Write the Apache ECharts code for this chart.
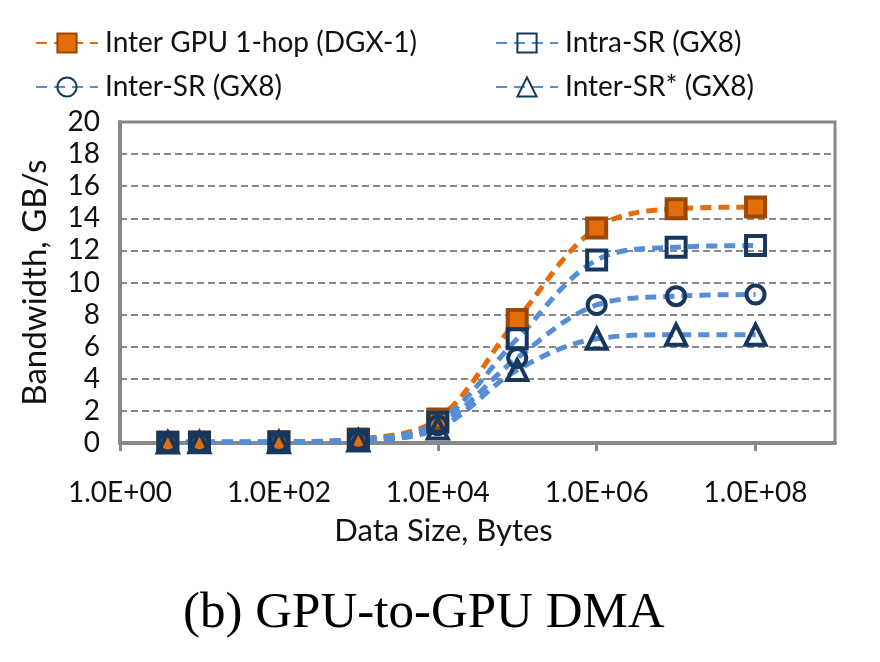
<!DOCTYPE html>
<html>
<head>
<meta charset="utf-8">
<script src="https://cdn.jsdelivr.net/npm/echarts@6/dist/echarts.min.js"></script>
<style>
  html, body { margin: 0; padding: 0; background: #fff; }
  #chart { width: 880px; height: 662px; }
</style>
</head>
<body>
<div id="chart"></div>
<script>
// ---- data ----
var sizes = [4, 10, 100, 1000, 1e4, 1e5, 1e6, 1e7, 1e8];
var interGpu1hop = [0.05, 0.06, 0.08, 0.25, 1.5, 7.7, 13.4, 14.6, 14.7];
var intraSR = [0.04, 0.05, 0.07, 0.2, 1.3, 6.5, 11.4, 12.2, 12.3];
var interSR = [0.03, 0.04, 0.06, 0.18, 1.1, 5.3, 8.6, 9.15, 9.25];
var interSRStar = [0.03, 0.04, 0.05, 0.15, 0.9, 4.55, 6.5, 6.75, 6.75];
var seriesNames = ['Inter GPU 1-hop (DGX-1)', 'Intra-SR (GX8)', 'Inter-SR (GX8)', 'Inter-SR* (GX8)'];
var xTickValues = [1, 100, 1e4, 1e6, 1e8];
var yTicks = { min: 0, max: 20, interval: 2 };
var xTitle = 'Data Size, Bytes';
var yTitle = 'Bandwidth, GB/s';
var caption = '(b) GPU-to-GPU DMA';

function pairs(ys) { return sizes.map(function (x, i) { return [x, ys[i]]; }); }
function sci(v) {
  var e = Math.round(Math.log10(v));
  return '1.0E+' + (e < 10 ? '0' + e : '' + e);
}

var FONT = "Lato, 'Open Sans', sans-serif";
var ORANGE = '#E46C0A', ORANGE_DARK = '#984807', BLUE = '#558ED5', NAVY = '#17375E', GRAY = '#888888';
var dash = [11, 7];

function mk(name, ys, lineColor, symbol, size, itemStyle) {
  return {
    name: name, type: 'line', data: pairs(ys), smooth: 0.35,
    symbol: symbol, symbolSize: size, showSymbol: true,
    lineStyle: { color: lineColor, width: 5, type: dash },
    itemStyle: itemStyle,
    z: 3
  };
}
var hollow = { color: 'rgba(0,0,0,0)', borderColor: NAVY, borderWidth: 4 };

var chart = echarts.init(document.getElementById('chart'), null, { renderer: 'canvas' });
function legend(name, left, top) {
  return {
    data: [name], left: left, top: top, itemWidth: 62, itemHeight: 24, itemGap: 0,
    padding: 0, textStyle: { fontFamily: FONT, fontSize: 28, color: '#111', padding: [0, 0, 0, 2] }
  };
}
chart.setOption({
  animation: false,
  backgroundColor: '#fff',
  title: {
    text: caption, left: 183, top: 588, padding: 0,
    textStyle: { fontFamily: "'Liberation Serif', 'DejaVu Serif', serif", fontWeight: 'normal', fontSize: 51, color: '#000' }
  },
  legend: [
    legend(seriesNames[0], 35, 29),
    legend(seriesNames[1], 495, 29),
    legend(seriesNames[2], 35, 73),
    legend(seriesNames[3], 495, 73)
  ],
  grid: { left: 120, right: 45, top: 122, bottom: 219, show: true, borderColor: GRAY, borderWidth: 3, containLabel: false },
  xAxis: {
    type: 'log', logBase: 10, min: 1, max: 1e9,
    name: xTitle, nameLocation: 'middle', nameGap: 72,
    nameTextStyle: { fontFamily: FONT, fontSize: 31, color: '#111', padding: [0, 68, 0, 0] },
    axisLine: { lineStyle: { color: GRAY, width: 4 } },
    axisTick: { show: true, length: 8, lineStyle: { color: GRAY, width: 3 }, customValues: xTickValues },
    axisLabel: { fontFamily: FONT, fontSize: 28, color: '#111', margin: 36, formatter: sci, customValues: xTickValues },
    splitLine: { show: false }, minorTick: { show: false }, minorSplitLine: { show: false }
  },
  yAxis: {
    type: 'value', min: yTicks.min, max: yTicks.max, interval: yTicks.interval,
    name: yTitle, nameLocation: 'middle', nameGap: 68, nameRotate: 90,
    nameTextStyle: { fontFamily: FONT, fontSize: 33, color: '#111' },
    axisLine: { show: true, lineStyle: { color: GRAY, width: 4 } },
    axisTick: { show: false },
    axisLabel: { fontFamily: FONT, fontSize: 28, color: '#111', margin: 20 },
    splitLine: { show: true, lineStyle: { color: GRAY, width: 2, type: [7, 4] } }
  },
  series: [
    mk(seriesNames[0], interGpu1hop, ORANGE, 'rect', 19, { color: ORANGE, borderColor: ORANGE_DARK, borderWidth: 4 }),
    mk(seriesNames[1], intraSR, BLUE, 'rect', 19, hollow),
    mk(seriesNames[2], interSR, BLUE, 'circle', 18, hollow),
    mk(seriesNames[3], interSRStar, BLUE, 'triangle', 20, hollow)
  ]
});
</script>
</body>
</html>
